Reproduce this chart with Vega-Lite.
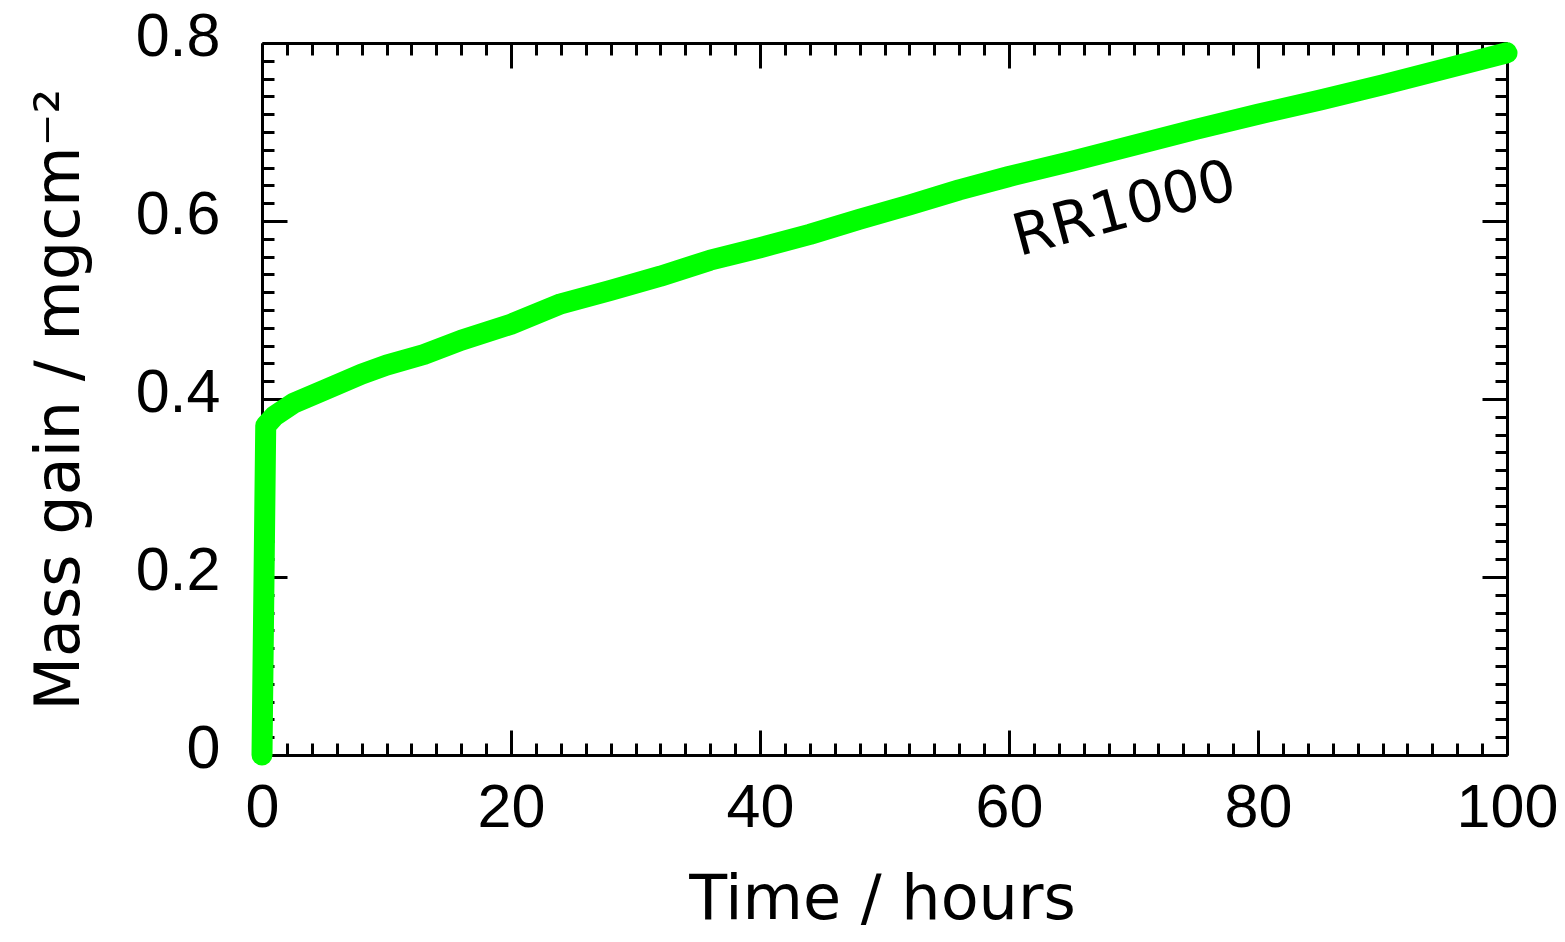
{
  "$schema": "https://vega.github.io/schema/vega-lite/v6.json",
  "width": 1245,
  "height": 712,
  "autosize": {"type": "none"},
  "padding": {"left": 262, "top": 43, "right": 58, "bottom": 187},
  "background": "white",
  "config": {
    "view": {"stroke": null},
    "axis": {"grid": false, "domain": false, "labels": false, "ticks": false, "zindex": 2}
  },
  "data": {
    "values": [
      {"t": 0, "m": 0},
      {"t": 0.3, "m": 0.37},
      {"t": 1, "m": 0.381},
      {"t": 2.5, "m": 0.395},
      {"t": 5, "m": 0.41},
      {"t": 8, "m": 0.428},
      {"t": 10, "m": 0.438},
      {"t": 13, "m": 0.45},
      {"t": 16, "m": 0.466},
      {"t": 20, "m": 0.484},
      {"t": 24, "m": 0.507},
      {"t": 28, "m": 0.522},
      {"t": 32, "m": 0.538},
      {"t": 36, "m": 0.556},
      {"t": 40, "m": 0.57},
      {"t": 44, "m": 0.585},
      {"t": 48, "m": 0.602},
      {"t": 52, "m": 0.618},
      {"t": 56, "m": 0.635},
      {"t": 60, "m": 0.65},
      {"t": 65, "m": 0.667},
      {"t": 70, "m": 0.685},
      {"t": 75, "m": 0.703},
      {"t": 80, "m": 0.72},
      {"t": 85, "m": 0.736},
      {"t": 90, "m": 0.753},
      {"t": 95, "m": 0.771},
      {"t": 100, "m": 0.789}
    ]
  },
  "resolve": {"axis": {"x": "independent", "y": "independent"}},
  "layer": [
    {
      "mark": {"type": "line", "color": "#00ff00", "strokeWidth": 21, "strokeCap": "round", "strokeJoin": "round"},
      "encoding": {
        "x": {"field": "t", "type": "quantitative", "scale": {"domain": [0, 100], "nice": false, "zero": false},
          "axis": {"orient": "bottom", "labels": true, "values": [0, 20, 40, 60, 80, 100], "labelFont": "Liberation Sans", "labelFontSize": 61, "labelColor": "black", "labelPadding": 23, "labelFlush": false, "labelOverlap": false,
            "title": "Time / hours", "titleFont": "DejaVu Sans", "titleFontSize": 62, "titleFontWeight": "normal", "titleColor": "black", "titleX": 620, "titleY": 163, "titleAlign": "center", "titleBaseline": "alphabetic", "titleAnchor": null}},
        "y": {"field": "m", "type": "quantitative", "scale": {"domain": [0, 0.8], "nice": false, "zero": false},
          "axis": {"orient": "left", "labels": true, "values": [0, 0.2, 0.4, 0.6, 0.8], "format": "~g", "labelFont": "Liberation Sans", "labelFontSize": 61, "labelColor": "black", "labelPadding": 42, "labelOffset": -6, "labelFlush": false, "labelOverlap": false,
            "title": "Mass gain / mgcm⁻²", "titleFont": "DejaVu Sans", "titleFontSize": 62, "titleFontWeight": "normal", "titleColor": "black", "titleX": -184, "titleY": 667, "titleAngle": -90, "titleAlign": "left", "titleBaseline": "alphabetic", "titleAnchor": null}}
      }
    },
    {
      "mark": {"type": "line", "opacity": 0},
      "encoding": {
        "x": {"field": "t", "type": "quantitative", "scale": {"domain": [0, 100], "nice": false, "zero": false},
          "axis": {"orient": "bottom", "title": null, "values": [0, 20, 40, 60, 80, 100], "ticks": true, "tickSize": -25, "tickWidth": 3, "tickColor": "black", "domain": true, "domainWidth": 3, "domainColor": "black"}},
        "y": {"field": "m", "type": "quantitative", "scale": {"domain": [0, 0.8], "nice": false, "zero": false},
          "axis": {"orient": "left", "title": null, "values": [0, 0.2, 0.4, 0.6, 0.8], "ticks": true, "tickSize": -25, "tickWidth": 3, "tickColor": "black", "domain": true, "domainWidth": 3, "domainColor": "black"}}
      }
    },
    {
      "mark": {"type": "line", "opacity": 0},
      "encoding": {
        "x": {"field": "t", "type": "quantitative", "scale": {"domain": [0, 100], "nice": false, "zero": false},
          "axis": {"orient": "bottom", "title": null, "values": [2, 4, 6, 8, 10, 12, 14, 16, 18, 22, 24, 26, 28, 30, 32, 34, 36, 38, 42, 44, 46, 48, 50, 52, 54, 56, 58, 62, 64, 66, 68, 70, 72, 74, 76, 78, 82, 84, 86, 88, 90, 92, 94, 96, 98], "ticks": true, "tickSize": -12, "tickWidth": 3, "tickColor": "black"}},
        "y": {"field": "m", "type": "quantitative", "scale": {"domain": [0, 0.8], "nice": false, "zero": false},
          "axis": {"orient": "left", "title": null, "values": [0.02, 0.04, 0.06, 0.08, 0.1, 0.12, 0.14, 0.16, 0.18, 0.22, 0.24, 0.26, 0.28, 0.3, 0.32, 0.34, 0.36, 0.38, 0.42, 0.44, 0.46, 0.48, 0.5, 0.52, 0.54, 0.56, 0.58, 0.62, 0.64, 0.66, 0.68, 0.7, 0.72, 0.74, 0.76, 0.78], "ticks": true, "tickSize": -12, "tickWidth": 3, "tickColor": "black"}}
      }
    },
    {
      "mark": {"type": "line", "opacity": 0},
      "encoding": {
        "x": {"field": "t", "type": "quantitative", "scale": {"domain": [0, 100], "nice": false, "zero": false},
          "axis": {"orient": "top", "title": null, "values": [0, 20, 40, 60, 80, 100], "ticks": true, "tickSize": -25, "tickWidth": 3, "tickColor": "black", "domain": true, "domainWidth": 3, "domainColor": "black"}},
        "y": {"field": "m", "type": "quantitative", "scale": {"domain": [0, 0.8], "nice": false, "zero": false},
          "axis": {"orient": "right", "title": null, "values": [0, 0.2, 0.4, 0.6, 0.8], "ticks": true, "tickSize": -25, "tickWidth": 3, "tickColor": "black", "domain": true, "domainWidth": 3, "domainColor": "black"}}
      }
    },
    {
      "mark": {"type": "line", "opacity": 0},
      "encoding": {
        "x": {"field": "t", "type": "quantitative", "scale": {"domain": [0, 100], "nice": false, "zero": false},
          "axis": {"orient": "top", "title": null, "values": [2, 4, 6, 8, 10, 12, 14, 16, 18, 22, 24, 26, 28, 30, 32, 34, 36, 38, 42, 44, 46, 48, 50, 52, 54, 56, 58, 62, 64, 66, 68, 70, 72, 74, 76, 78, 82, 84, 86, 88, 90, 92, 94, 96, 98], "ticks": true, "tickSize": -12, "tickWidth": 3, "tickColor": "black"}},
        "y": {"field": "m", "type": "quantitative", "scale": {"domain": [0, 0.8], "nice": false, "zero": false},
          "axis": {"orient": "right", "title": null, "values": [0.02, 0.04, 0.06, 0.08, 0.1, 0.12, 0.14, 0.16, 0.18, 0.22, 0.24, 0.26, 0.28, 0.3, 0.32, 0.34, 0.36, 0.38, 0.42, 0.44, 0.46, 0.48, 0.5, 0.52, 0.54, 0.56, 0.58, 0.62, 0.64, 0.66, 0.68, 0.7, 0.72, 0.74, 0.76, 0.78], "ticks": true, "tickSize": -12, "tickWidth": 3, "tickColor": "black"}}
      }
    },
    {
      "data": {"values": [{"t": 69.3, "m": 0.612, "label": "RR1000"}]},
      "mark": {"type": "text", "font": "DejaVu Sans", "fontSize": 58, "angle": -15, "align": "center", "baseline": "middle", "color": "black"},
      "encoding": {
        "x": {"field": "t", "type": "quantitative", "scale": {"domain": [0, 100], "nice": false, "zero": false}, "axis": null},
        "y": {"field": "m", "type": "quantitative", "scale": {"domain": [0, 0.8], "nice": false, "zero": false}, "axis": null},
        "text": {"field": "label"}
      }
    }
  ]
}
